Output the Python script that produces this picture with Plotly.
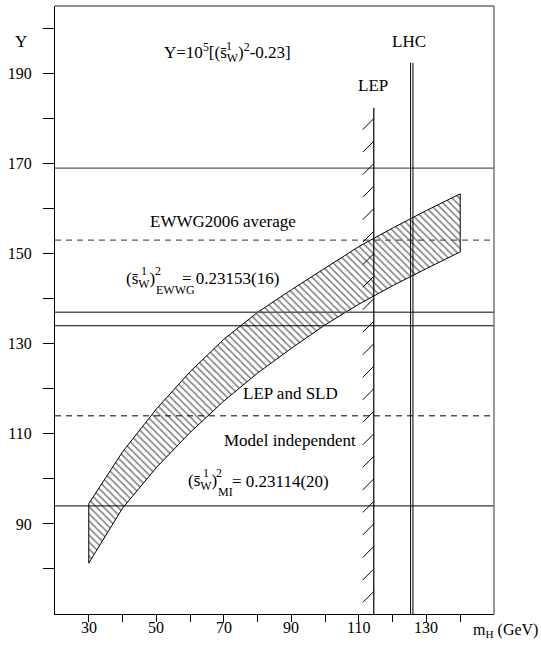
import plotly.graph_objects as go

# ---------------- data ----------------
mh = [30, 40, 50, 60, 70, 80, 90, 100, 110, 120, 130, 140]
y_upper = [94.5, 106.0, 115.5, 123.8, 131.0, 137.0, 142.0, 146.8, 151.6, 155.7, 159.6, 163.3]
y_lower = [81.3, 93.5, 102.5, 110.3, 117.3, 123.5, 129.0, 134.2, 138.8, 142.9, 146.7, 150.4]

ewwg_central = 153
ewwg_err = 16
mi_central = 114
mi_err = 20

lep_limit = 114.4
lep_top = 182.4
lhc_lines = [125.3, 126.0]
lhc_top = 192.4
lep_mark_y = [75, 80, 85, 90, 95, 100, 105, 110, 115, 120, 125, 130,
              135, 140, 145, 150, 155, 160, 165, 170, 175, 180]

x_tickvals = [30, 40, 50, 60, 70, 80, 90, 100, 110, 120, 130, 140]
x_ticktext = ["30", "", "50", "", "70", "", "90", "", "110", "", "130", ""]
y_tickvals = [80, 90, 100, 110, 120, 130, 140, 150, 160, 170, 180, 190, 200]
y_ticktext = ["", "90", "", "110", "", "130", "", "150", "", "170", "", "190", ""]

X_RANGE = [20, 150]
Y_RANGE = [70, 205]

FONT = "Liberation Serif, Times New Roman, serif"
BIG = 17
SMALL = 12
GRAY = "#5a5a5a"

fig = go.Figure()

# hatched band
bx = mh + mh[::-1] + [mh[0]]
by = y_upper + y_lower[::-1] + [y_upper[0]]
fig.add_trace(go.Scatter(
    x=bx, y=by, mode="lines", fill="toself",
    line=dict(color="black", width=1),
    fillcolor="rgba(255,255,255,0)",
    fillpattern=dict(shape="\\", size=5, solidity=0.3,
                     fgcolor="black", bgcolor="rgba(255,255,255,0)"),
    hoverinfo="skip", showlegend=False,
))

shapes = []
for yv, dash in [(ewwg_central + ewwg_err, "solid"), (ewwg_central, "6px,5px"),
                 (ewwg_central - ewwg_err, "solid")]:
    shapes.append(dict(type="line", xref="paper", x0=0, x1=1, yref="y", y0=yv, y1=yv,
                       line=dict(color=GRAY, width=1.3, dash=dash)))
for yv, dash in [(mi_central + mi_err, "solid"), (mi_central, "6px,5px"),
                 (mi_central - mi_err, "solid")]:
    shapes.append(dict(type="line", xref="paper", x0=0, x1=1, yref="y", y0=yv, y1=yv,
                       line=dict(color="black", width=1, dash=dash)))
shapes.append(dict(type="line", xref="x", x0=lep_limit, x1=lep_limit, yref="y",
                   y0=Y_RANGE[0], y1=lep_top, line=dict(color="black", width=1.2)))
for ym in lep_mark_y:
    shapes.append(dict(type="line", xref="x", yref="y", xsizemode="pixel", ysizemode="pixel",
                       xanchor=lep_limit, yanchor=ym, x0=-11, x1=0, y0=-11, y1=0,
                       line=dict(color="black", width=1)))
for xv in lhc_lines:
    shapes.append(dict(type="line", xref="x", x0=xv, x1=xv, yref="y",
                       y0=Y_RANGE[0], y1=lhc_top, line=dict(color="black", width=1)))
shapes.append(dict(type="line", xref="paper", yref="paper", x0=0, x1=1, y0=1, y1=1,
                   line=dict(color="#222", width=1.2)))
shapes.append(dict(type="line", xref="paper", yref="paper", x0=1, x1=1, y0=0, y1=1,
                   line=dict(color="#777", width=1.5)))

ann = []
def txt(x, y, t, size=BIG, xanchor="left", yanchor="middle", xref="x", yref="y"):
    ann.append(dict(x=x, y=y, xref=xref, yref=yref, text=t, showarrow=False,
                    xanchor=xanchor, yanchor=yanchor,
                    font=dict(family=FONT, size=size, color="black")))

def px_x(v):
    return (v - X_RANGE[0]) / (X_RANGE[1] - X_RANGE[0])

def px_y(v):
    return (v - Y_RANGE[0]) / (Y_RANGE[1] - Y_RANGE[0])

# x tick labels placed on the x scale just under the axis
for v, t in zip(x_tickvals, x_ticktext):
    if t:
        txt(v, px_y(66.9), t, size=16, xanchor="center", yref="paper")

# axis labels (outside the plot area -> paper coordinates)
txt(px_x(10), px_y(197.2), "Y", xanchor="center", xref="paper", yref="paper")
txt(px_x(143.3), px_y(66.4), "m<sub>H</sub> (GeV)", size=16, xref="paper", yref="paper")
# title formula
txt(51.6, 194.7, "Y=10<sup>5</sup>[(s\u0304<sub>W</sub>)<sup>2</sup>-0.23]")
txt(71.6, 196.2, "1", size=SMALL, xanchor="center")
# vertical line labels
txt(114.2, 187.4, "LEP", xanchor="center")
txt(124.9, 197.2, "LHC", xanchor="center")
# EWWG
txt(69.7, 157.2, "EWWG2006 average", xanchor="center")
txt(40.4, 144.2, "(s\u0304<sub>W</sub>)")
txt(46.3, 146.2, "1", size=SMALL, xanchor="center")
txt(50.4, 146.2, "2", size=SMALL, xanchor="center")
txt(49.3, 141.9, "EWWG", size=SMALL)
txt(56.9, 144.5, "= 0.23153(16)")
# MI
txt(89.6, 118.9, "LEP and SLD", xanchor="center")
txt(89.6, 108.5, "Model independent", xanchor="center")
txt(58.8, 99.3, "(s\u0304<sub>W</sub>)")
txt(64.6, 101.2, "1", size=SMALL, xanchor="center")
txt(68.6, 101.2, "2", size=SMALL, xanchor="center")
txt(67.6, 97.0, "MI", size=SMALL)
txt(71.8, 99.5, "= 0.23114(20)")

fig.update_layout(
    width=541, height=650,
    margin=dict(l=55, r=47, t=6, b=36),
    paper_bgcolor="white", plot_bgcolor="white",
    font=dict(family=FONT, size=16, color="black"),
    shapes=shapes, annotations=ann, showlegend=False,
    xaxis=dict(range=X_RANGE, showgrid=False, zeroline=False, showline=True,
               linecolor="black", linewidth=1.2, ticks="outside", ticklen=7,
               tickcolor="black", tickwidth=1, tickvals=x_tickvals,
               showticklabels=False),
    yaxis=dict(range=Y_RANGE, showgrid=False, zeroline=False, showline=True,
               linecolor="black", linewidth=1.2, ticks="outside", ticklen=11,
               tickcolor="black", tickwidth=1, tickvals=y_tickvals, ticktext=y_ticktext,
               ticklabelstandoff=8, tickfont=dict(family=FONT, size=16)),
)

fig.write_html("out.html", config={"displayModeBar": False},
               post_script="document.body.style.margin='0px';document.body.style.padding='0px';")
